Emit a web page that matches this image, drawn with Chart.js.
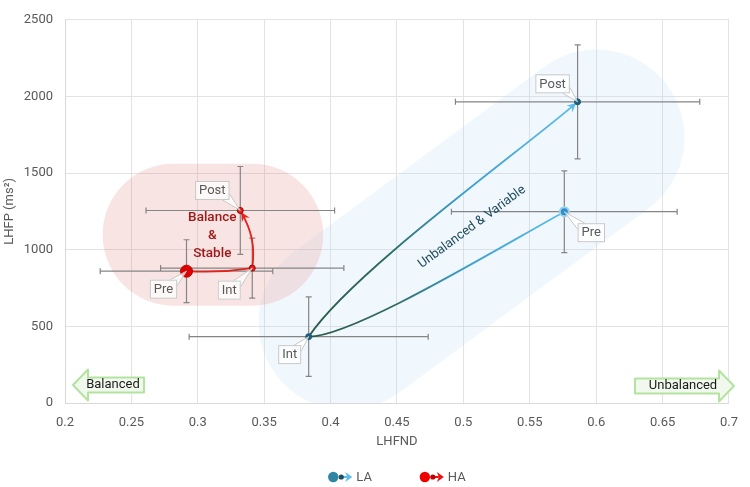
<!DOCTYPE html>
<html>
<head>
<meta charset="utf-8">
<script src="https://cdn.jsdelivr.net/npm/chart.js@4.4.1/dist/chart.umd.min.js"></script>
<style>
  html, body { margin: 0; padding: 0; background: #fff; }
</style>
</head>
<body>
<canvas id="chart" width="750" height="487"></canvas>
<script>
// ---- data ----
const phases = ['Pre', 'Int', 'Post'];

const laX = [0.576, 0.3835, 0.586];
const laY = [1248, 433, 1965];
const laXErr = [0.085, 0.09, 0.092];
const laYErr = [267, 259, 372];

const haX = [0.2915, 0.341, 0.332];
const haY = [860, 880, 1256];
const haXErr = [0.065, 0.069, 0.071];
const haYErr = [205, 196, 287];

const xTicks = [0.2, 0.25, 0.3, 0.35, 0.4, 0.45, 0.5, 0.55, 0.6, 0.65, 0.7];
const yTicks = [0, 500, 1000, 1500, 2000, 2500];

const FONT = 'Roboto';
const GREY = '#595959';

// trajectory segments: from/to are phase indexes, rot = tangent rotation (deg) vs chord, k = arm length
const laSegments = [
  { from: 0, to: 1, rot0: -3, rot1: 26.6, k0: 0.3, k1: 0.15, arrow: false },
  { from: 1, to: 2, rot0: -15, rot1: 0, k0: 0.22, k1: 0.2, arrow: true }
];
const haSegments = [
  { from: 0, to: 1, rot0: 6, rot1: -6, k0: 0.33, k1: 0.33, arrow: false },
  { from: 1, to: 2, rot0: 20, rot1: -18, k0: 0.4, k1: 0.35, arrow: true }
];

// callout label offsets (px) from each point
const laLabelOffsets = [[27, 21], [-19, 18], [-25, -18]];
const haLabelOffsets = [[-23, 18], [-23, 22], [-28, -20]];

const toPoints = (xs, ys) => xs.map((x, i) => ({ x: x, y: ys[i] }));

function pix(chart, x, y) {
  return { x: chart.scales.x.getPixelForValue(x), y: chart.scales.y.getPixelForValue(y) };
}

function capsule(ctx, a, b, r) {
  const ang = Math.atan2(b.y - a.y, b.x - a.x);
  ctx.beginPath();
  ctx.arc(b.x, b.y, r, ang - Math.PI / 2, ang + Math.PI / 2);
  ctx.arc(a.x, a.y, r, ang + Math.PI / 2, ang + Math.PI * 1.5);
  ctx.closePath();
  ctx.fill();
}

function bezierFor(p0, p1, s) {
  const L = Math.hypot(p1.x - p0.x, p1.y - p0.y);
  const ang = Math.atan2(p1.y - p0.y, p1.x - p0.x);
  const a0 = ang + s.rot0 * Math.PI / 180;
  const a1 = ang + s.rot1 * Math.PI / 180;
  return {
    c1: { x: p0.x + s.k0 * L * Math.cos(a0), y: p0.y + s.k0 * L * Math.sin(a0) },
    c2: { x: p1.x - s.k1 * L * Math.cos(a1), y: p1.y - s.k1 * L * Math.sin(a1) },
    endAng: a1
  };
}

function arrowHead(ctx, tip, ang, color) {
  const len = 9, half = 4.5;
  const bx = tip.x - len * Math.cos(ang), by = tip.y - len * Math.sin(ang);
  const nx = -Math.sin(ang), ny = Math.cos(ang);
  ctx.fillStyle = color;
  ctx.beginPath();
  ctx.moveTo(tip.x, tip.y);
  ctx.lineTo(bx + nx * half, by + ny * half);
  ctx.lineTo(tip.x - len * 0.65 * Math.cos(ang), tip.y - len * 0.65 * Math.sin(ang));
  ctx.lineTo(bx - nx * half, by - ny * half);
  ctx.closePath();
  ctx.fill();
}

function drawTrajectory(chart, ds, segs, pickStroke, headColor) {
  const ctx = chart.ctx;
  segs.forEach(s => {
    const p0 = pix(chart, ds.data[s.from].x, ds.data[s.from].y);
    const p1 = pix(chart, ds.data[s.to].x, ds.data[s.to].y);
    const bz = bezierFor(p0, p1, s);
    let end = p1;
    if (s.arrow) {
      // stop the line a bit before the tip so the head stays sharp
      end = { x: p1.x - 2 * Math.cos(bz.endAng), y: p1.y - 2 * Math.sin(bz.endAng) };
    }
    ctx.strokeStyle = pickStroke(ctx, p0, p1, s);
    ctx.lineWidth = 1.8;
    ctx.beginPath();
    ctx.moveTo(p0.x, p0.y);
    ctx.bezierCurveTo(bz.c1.x, bz.c1.y, bz.c2.x, bz.c2.y, end.x, end.y);
    ctx.stroke();
    if (s.arrow) arrowHead(ctx, end, bz.endAng, headColor);
  });
}

function callout(ctx, p, off, text) {
  ctx.font = '13px ' + FONT;
  const w = ctx.measureText(text).width + 8, h = 19;
  const cx = p.x + off[0], cy = p.y + off[1];
  const l = cx - w / 2, t = cy - h / 2, r = cx + w / 2, b = cy + h / 2;
  const cornerX = off[0] < 0 ? r : l;
  const cornerY = off[1] < 0 ? b : t;
  const sx = off[0] < 0 ? -1 : 1, sy = off[1] < 0 ? -1 : 1;
  // pointer wedge
  ctx.fillStyle = 'rgba(255,255,255,0.75)';
  ctx.strokeStyle = '#c8c8c8';
  ctx.lineWidth = 1;
  ctx.beginPath();
  ctx.moveTo(cornerX + sx * 7, cornerY);
  ctx.lineTo(p.x, p.y);
  ctx.lineTo(cornerX, cornerY + sy * 6);
  ctx.closePath();
  ctx.fill();
  ctx.stroke();
  // box
  ctx.fillStyle = 'rgba(255,255,255,0.75)';
  ctx.fillRect(l, t, w, h);
  ctx.strokeRect(l + 0.5, t + 0.5, w - 1, h - 1);
  ctx.fillStyle = GREY;
  ctx.textAlign = 'center';
  ctx.textBaseline = 'middle';
  ctx.fillText(text, cx, cy + 0.5);
}

function dirArrow(ctx, x, y, bodyW, pointLeft, text) {
  // block arrow: body height 15, head height 31, head length 15
  const bh = 7.5, hh = 15.5, hl = 15;
  ctx.beginPath();
  if (pointLeft) {
    ctx.moveTo(x, y);
    ctx.lineTo(x + hl, y - hh);
    ctx.lineTo(x + hl, y - bh);
    ctx.lineTo(x + hl + bodyW, y - bh);
    ctx.lineTo(x + hl + bodyW, y + bh);
    ctx.lineTo(x + hl, y + bh);
    ctx.lineTo(x + hl, y + hh);
  } else {
    ctx.moveTo(x + bodyW + hl, y);
    ctx.lineTo(x + bodyW, y - hh);
    ctx.lineTo(x + bodyW, y - bh);
    ctx.lineTo(x, y - bh);
    ctx.lineTo(x, y + bh);
    ctx.lineTo(x + bodyW, y + bh);
    ctx.lineTo(x + bodyW, y + hh);
  }
  ctx.closePath();
  ctx.fillStyle = '#f1f9ee';
  ctx.fill();
  ctx.strokeStyle = '#b3e39f';
  ctx.lineWidth = 2;
  ctx.lineJoin = 'round';
  ctx.stroke();
  ctx.fillStyle = '#1a1a1a';
  ctx.font = '13px ' + FONT;
  ctx.textAlign = 'center';
  ctx.textBaseline = 'middle';
  const tx = pointLeft ? x + hl + bodyW / 2 - 3 : x + bodyW / 2 + 6;
  ctx.fillText(text, tx, y);
}

const decorations = {
  id: 'decorations',
  beforeDatasetsDraw(chart) {
    const ctx = chart.ctx;
    const area = chart.chartArea;
    ctx.save();
    ctx.beginPath();
    ctx.rect(area.left, area.top, area.right - area.left, area.bottom - area.top);
    ctx.clip();
    // group shading
    ctx.fillStyle = 'rgba(185,222,243,0.2)';
    capsule(ctx, pix(chart, 0.412, 527), pix(chart, 0.6003, 1732), 88);
    ctx.fillStyle = 'rgba(225,120,120,0.2)';
    capsule(ctx, pix(chart, 0.2818, 1098), pix(chart, 0.341, 1098), 71);
    ctx.restore();

    // error bars
    ctx.save();
    ctx.strokeStyle = '#858585';
    ctx.lineWidth = 1.2;
    chart.data.datasets.forEach(ds => {
      ds.data.forEach((pt, i) => {
        const l = pix(chart, pt.x - ds.xErr[i], pt.y);
        const r = pix(chart, pt.x + ds.xErr[i], pt.y);
        const t = pix(chart, pt.x, pt.y + ds.yErr[i]);
        const b = pix(chart, pt.x, pt.y - ds.yErr[i]);
        ctx.beginPath();
        ctx.moveTo(l.x, l.y); ctx.lineTo(r.x, r.y);
        ctx.moveTo(l.x, l.y - 3); ctx.lineTo(l.x, l.y + 3);
        ctx.moveTo(r.x, r.y - 3); ctx.lineTo(r.x, r.y + 3);
        ctx.moveTo(t.x, t.y); ctx.lineTo(b.x, b.y);
        ctx.moveTo(t.x - 3, t.y); ctx.lineTo(t.x + 3, t.y);
        ctx.moveTo(b.x - 3, b.y); ctx.lineTo(b.x + 3, b.y);
        ctx.stroke();
      });
    });
    ctx.restore();

    // trajectories
    ctx.save();
    ctx.lineCap = 'round';
    drawTrajectory(chart, chart.data.datasets[0], laSegments, (c, p0, p1, s) => {
      const dark = s.from === 1 ? p0 : p1;
      const light = s.from === 1 ? p1 : p0;
      const g = c.createLinearGradient(dark.x, dark.y, light.x, light.y);
      g.addColorStop(0, '#2b5a45');
      g.addColorStop(0.3, '#2d6a5f');
      g.addColorStop(0.6, '#409fcf');
      g.addColorStop(1, '#5bbde9');
      return g;
    }, '#5bbde9');
    drawTrajectory(chart, chart.data.datasets[1], haSegments, () => '#e3221b', '#e3221b');
    ctx.restore();
  },
  afterDatasetsDraw(chart) {
    const ctx = chart.ctx;
    const area = chart.chartArea;
    ctx.save();
    // point callouts
    const la = chart.data.datasets[0], ha = chart.data.datasets[1];
    la.data.forEach((pt, i) => callout(ctx, pix(chart, pt.x, pt.y), laLabelOffsets[i], phases[i]));
    ha.data.forEach((pt, i) => callout(ctx, pix(chart, pt.x, pt.y), haLabelOffsets[i], phases[i]));

    // group captions
    const bs = pix(chart, 0.3109, 1091);
    ctx.fillStyle = '#a01818';
    ctx.font = '500 13.5px ' + FONT;
    ctx.textAlign = 'center';
    ctx.textBaseline = 'middle';
    ctx.fillText('Balance', bs.x, bs.y - 18);
    ctx.fillText('&', bs.x, bs.y);
    ctx.fillText('Stable', bs.x, bs.y + 18);

    const uv = pix(chart, 0.5065, 1148);
    ctx.save();
    ctx.translate(uv.x, uv.y);
    ctx.rotate(-36.5 * Math.PI / 180);
    ctx.fillStyle = '#1f4b5c';
    ctx.font = '13px ' + FONT;
    ctx.fillText('Unbalanced & Variable', 0, 0);
    ctx.restore();

    // direction arrows
    dirArrow(ctx, area.left + 8, area.bottom - 18, 56, true, 'Balanced');
    dirArrow(ctx, area.right - 94, area.bottom - 17, 84, false, 'Unbalanced');
    ctx.restore();
  },
  afterDraw(chart) {
    // custom legend: marker + arrow icon per series
    const ctx = chart.ctx;
    const area = chart.chartArea;
    ctx.save();
    ctx.font = '13px ' + FONT;
    const items = chart.data.datasets.map(ds => ({
      text: ds.label,
      w: 24 + 4 + ctx.measureText(ds.label).width,
      main: ds.legendMain, dot: ds.legendDot, head: ds.legendHead
    }));
    const gap = 48;
    const total = items.reduce((s, it) => s + it.w, 0) + gap * (items.length - 1);
    let x = (area.left + area.right) / 2 - total / 2;
    const y = 477;
    items.forEach(it => {
      ctx.fillStyle = it.main;
      ctx.beginPath(); ctx.arc(x + 5, y, 5.2, 0, Math.PI * 2); ctx.fill();
      ctx.fillStyle = it.head;
      ctx.beginPath();
      ctx.moveTo(x + 24, y);
      ctx.lineTo(x + 17, y - 5);
      ctx.lineTo(x + 19, y);
      ctx.lineTo(x + 17, y + 5);
      ctx.closePath(); ctx.fill();
      ctx.fillRect(x + 11, y - 1, 8, 2);
      ctx.fillStyle = it.dot;
      ctx.beginPath(); ctx.arc(x + 13, y, 2.6, 0, Math.PI * 2); ctx.fill();
      ctx.fillStyle = GREY;
      ctx.textAlign = 'left';
      ctx.textBaseline = 'middle';
      ctx.fillText(it.text, x + 28, y + 0.5);
      x += it.w + gap;
    });
    ctx.restore();
  }
};

new Chart(document.getElementById('chart'), {
  type: 'scatter',
  data: {
    datasets: [
      {
        label: 'LA',
        data: toPoints(laX, laY),
        xErr: laXErr,
        yErr: laYErr,
        pointRadius: [4.5, 3, 3],
        pointBackgroundColor: ['#2f8fcc', '#1c5d79', '#1c5d79'],
        pointBorderColor: ['#9ad2f0', '#1c5d79', '#1c5d79'],
        pointBorderWidth: [2, 1, 1],
        legendMain: '#2f86a3', legendDot: '#1c4f66', legendHead: '#5bbde9'
      },
      {
        label: 'HA',
        data: toPoints(haX, haY),
        xErr: haXErr,
        yErr: haYErr,
        pointRadius: [6, 3, 3],
        pointBackgroundColor: ['#dd0000', '#e3221b', '#e3221b'],
        pointBorderColor: ['#c00000', '#a00000', '#a00000'],
        pointBorderWidth: [1, 1, 1],
        legendMain: '#ee0000', legendDot: '#c00000', legendHead: '#ee1111'
      }
    ]
  },
  options: {
    responsive: false,
    animation: false,
    devicePixelRatio: 1,
    layout: { padding: { left: 0, right: 13, top: 9, bottom: 30 } },
    plugins: {
      legend: { display: false },
      tooltip: { enabled: false }
    },
    scales: {
      x: {
        type: 'linear',
        min: 0.2,
        max: 0.7,
        afterBuildTicks: s => { s.ticks = xTicks.map(v => ({ value: v })); },
        afterFit: s => { s.height = 54; },
        grid: { color: '#e3e3e3', drawTicks: false },
        border: { color: '#d9d9d9' },
        ticks: {
          color: GREY,
          padding: 12,
          font: { family: FONT, size: 13 },
          callback: v => String(Number(v.toFixed(2)))
        },
        title: {
          display: true,
          text: 'LHFND',
          color: GREY,
          font: { family: FONT, size: 13 },
          padding: { top: 0, bottom: 7 }
        }
      },
      y: {
        min: 0,
        max: 2500,
        afterBuildTicks: s => { s.ticks = yTicks.map(v => ({ value: v })); },
        afterFit: s => { s.width = 65; },
        grid: { color: '#e3e3e3', drawTicks: false },
        border: { color: '#d9d9d9' },
        ticks: {
          color: GREY,
          padding: 12,
          font: { family: FONT, size: 13 },
          callback: v => String(v)
        },
        title: {
          display: true,
          text: 'LHFP (ms²)',
          color: GREY,
          font: { family: FONT, size: 13 },
          padding: { top: 2, bottom: 0 }
        }
      }
    }
  },
  plugins: [decorations]
});
</script>
</body>
</html>
